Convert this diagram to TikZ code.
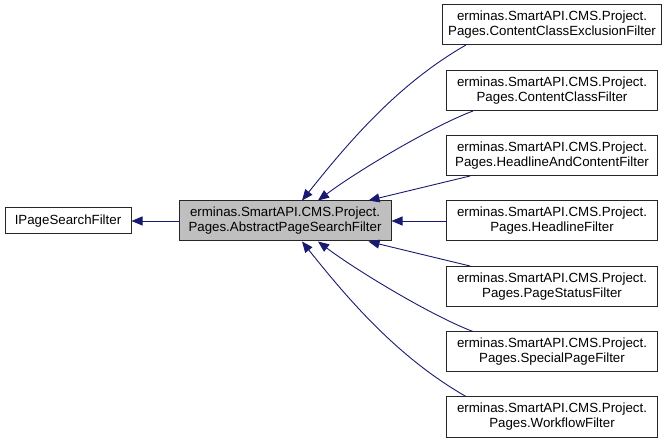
\documentclass[tikz,border=0pt]{standalone}
\usepackage{fontspec}
\setmainfont{Liberation Sans}
\usetikzlibrary{calc}
\usetikzlibrary{arrows.meta}

\definecolor{edgeblue}{HTML}{191970}
\definecolor{basegray}{HTML}{BFBFBF}

\begin{document}
\begin{tikzpicture}[x=1pt,y=-1pt,
  box/.style={draw=black!85,line width=1pt,fill=white,align=center,
    inner xsep=6pt,inner ysep=2pt,minimum height=40pt,
    font=\fontsize{13.3}{15}\selectfont},
  subclass/.style={box,minimum width=211pt},
  edge/.style={draw=edgeblue,line width=0.9pt,-{Triangle[length=11pt,width=9pt]}}]

\useasboundingbox (0,0) rectangle (672,443);

% the base class and its interface
\node[box,fill=basegray,minimum width=212pt] (abs) at (285,221)
  {erminas.SmartAPI.CMS.Project.\\Pages.AbstractPageSearchFilter};
\node[box,minimum width=126pt,minimum height=26pt] (ipf) at (68,221) {IPageSearchFilter};

% the filters on the right
\foreach \name/\y/\cls in {ex/24.5/ContentClassExclusionFilter,
    cc/90.5/ContentClassFilter, hac/155.5/HeadlineAndContentFilter,
    hl/221/HeadlineFilter, ps/286.5/PageStatusFilter,
    sp/352/SpecialPageFilter, wf/417/WorkflowFilter}
  \node[subclass] (\name) at (552,\y) {erminas.SmartAPI.CMS.Project.\\Pages.\cls};

\draw[edge] (abs.west) -- (ipf.east);

\draw[edge] ([xshift=-86pt]ex.south) .. controls +(-70,40) and +(44,-55) .. ([xshift=17pt]abs.north);
\draw[edge] ([xshift=-79pt]cc.south) .. controls +(-40,15) and +(40,-30) .. ([xshift=33pt]abs.north);
\draw[edge] ([xshift=-82pt]hac.south) -- ([xshift=-23pt]abs.north east);
\draw[edge] (hl.west) -- (abs.east);
\draw[edge] ([xshift=-82pt]ps.north) -- ([xshift=-23pt]abs.south east);
\draw[edge] ([xshift=-79pt]sp.north) .. controls +(-40,-15) and +(40,30) .. ([xshift=33pt]abs.south);
\draw[edge] ([xshift=-86pt]wf.north) .. controls +(-70,-40) and +(44,55) .. ([xshift=17pt]abs.south);

\end{tikzpicture}
\end{document}
